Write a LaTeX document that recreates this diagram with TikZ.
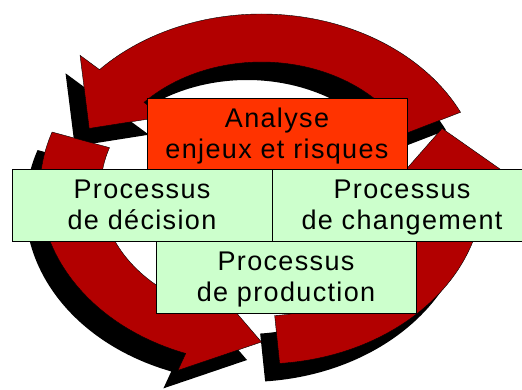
\documentclass[tikz,border=0pt]{standalone}
\usepackage{fontspec}
\newfontfamily\boxfont{Liberation Sans}[LetterSpace=5]
\definecolor{arrowred}{RGB}{178,0,0}
\definecolor{analyseorange}{RGB}{255,51,0}
\definecolor{procgreen}{RGB}{204,255,204}
\newcommand\ringarrow[6]{%
  \fill[#1] (#2:127) -- (#2:175) arc[start angle=#2,end angle=#3,radius=175]
    -- (#3:#5) -- (#4:#6) -- (#3:106) -- (#3:127)
    arc[start angle=#3,end angle=#2,radius=127] -- cycle;}
\begin{document}
\begin{tikzpicture}[x=1pt,y=1pt,
  shadowarrow/.style={fill=black},
  redarrow/.style={fill=arrowred,draw=black,line width=0.4pt,line join=miter},
  procbox/.style={draw=black,line width=0.7pt,inner sep=0pt,align=center,
    minimum width=260pt,minimum height=72pt,
    font=\boxfont\fontsize{27}{31}\selectfont}]
\useasboundingbox (0,0) rectangle (522,389);
% shadows
\begin{scope}[shift={(247,182)},xscale=1.2657]
  \ringarrow{shadowarrow}{26}{137}{156}{196}{149}
  \ringarrow{shadowarrow}{161}{250}{270}{193}{153}
  \ringarrow{shadowarrow}{274.7}{364}{383}{196}{155}
\end{scope}
% red arrows
\begin{scope}[shift={(261.5,200)},xscale=1.2657]
  \ringarrow{redarrow}{26}{137}{156}{196}{149}
  \ringarrow{redarrow}{161}{250}{270}{193}{153}
  \ringarrow{redarrow}{274.7}{364}{383}{196}{155}
\end{scope}
% boxes
\node[procbox,fill=procgreen] (decision) at (142,184) {Processus\\de décision};
\node[procbox,fill=procgreen] (changement) at (402,184) {Processus\\\smash{de changement}};
\node[procbox,fill=procgreen] (production) at (286,112) {Processus\\\smash{de production}};
\node[procbox,fill=analyseorange,minimum height=71pt] (analyse) at (277,255.5) {Analyse\\\smash{enjeux et risques}};
\end{tikzpicture}
\end{document}
